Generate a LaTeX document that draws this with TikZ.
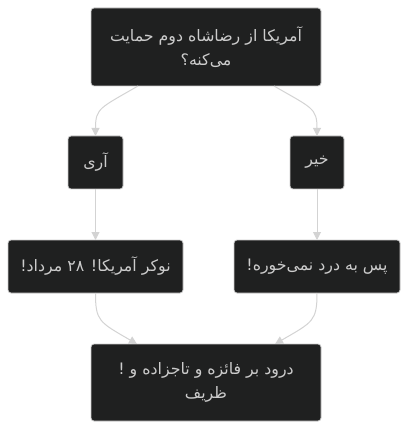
\documentclass[tikz,border=0pt]{standalone}
\usepackage{fontspec}
\TeXXeTstate=1
\newfontfamily\arabicfont[Script=Arabic]{DejaVu Sans}
\usetikzlibrary{arrows.meta}
\definecolor{nodefill}{HTML}{1F2020}
\definecolor{nodeborder}{HTML}{CCCCCC}
\definecolor{nodetext}{HTML}{CCCCCC}
\definecolor{edgecol}{HTML}{D3D3D3}
\tikzset{
  box/.style={draw=nodeborder, line width=0.8pt, fill=nodefill, rounded corners=3pt,
    text=nodetext, font=\arabicfont\fontsize{15.8}{24.5}\selectfont, align=center,
    inner sep=0pt, outer sep=0pt},
  edge/.style={draw=edgecol, line width=1pt, -{Triangle[width=8pt,length=8pt]}}
}
\begin{document}
\begin{tikzpicture}[x=1pt,y=-1pt]
\useasboundingbox (0,0) rectangle (408,430);
\node[box, minimum width=230pt, minimum height=78pt] (top) at (206,47)
  {\beginR آمریکا از رضاشاه دوم حمایت\endR\\\beginR می‌کنه؟\endR};
\node[box, minimum width=55pt, minimum height=53pt] (yes) at (95.5,162.5)
  {\beginR آری\endR};
\node[box, minimum width=54pt, minimum height=53pt] (no) at (317,162.5)
  {\beginR خیر\endR};
\node[box, minimum width=175pt, minimum height=53pt] (lm) at (95.5,266.5)
  {\beginR نوکر آمریکا! ۲۸ مرداد!\endR};
\node[box, minimum width=166pt, minimum height=53pt] (rm) at (317,266.5)
  {\beginR پس به درد نمی‌خوره!\endR};
\node[box, minimum width=230pt, minimum height=77pt] (bot) at (206,382.5)
  {\beginR درود بر فائزه و تاجزاده و !\endR\\\beginR ظریف\endR};

\draw[edge] ([xshift=-68pt]top.south) .. controls +(-38,22) and +(0,-28) .. (yes.north);
\draw[edge] ([xshift=68pt]top.south) .. controls +(38,22) and +(0,-28) .. (no.north);
\draw[edge] (yes.south) -- (lm.north);
\draw[edge] (no.south) -- (rm.north);
\draw[edge] (lm.south) .. controls +(0,28) and +(-38,-22) .. ([xshift=-69pt]bot.north);
\draw[edge] (rm.south) .. controls +(0,28) and +(38,-22) .. ([xshift=69pt]bot.north);
\end{tikzpicture}
\end{document}
